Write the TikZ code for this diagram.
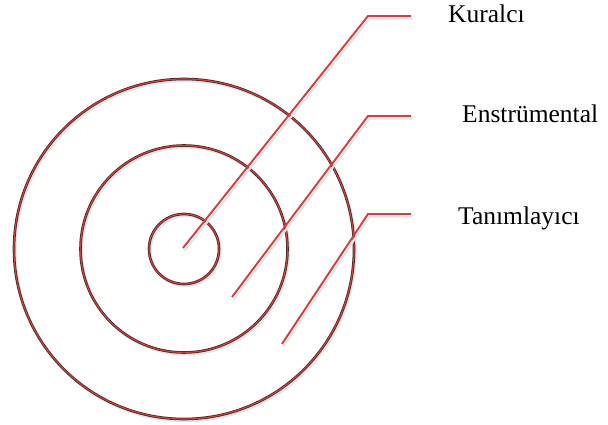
\documentclass[tikz,border=0pt]{standalone}
\usepackage{fontspec}
\setmainfont{Liberation Serif}
\usetikzlibrary{calc}
\definecolor{ringdark}{RGB}{75,35,35}
\definecolor{ringred}{RGB}{200,70,70}
\definecolor{leadred}{RGB}{205,65,65}
\definecolor{shade}{RGB}{228,228,228}
\tikzset{
  ringout/.style={draw=ringdark,line width=2.6pt},
  ringin/.style={draw=ringred,line width=1.1pt},
  leader/.style={draw=leadred,line width=1.9pt},
  leadshadow/.style={draw=shade,line width=2.2pt},
  lbl/.style={anchor=base west,inner sep=0pt,font=\fontsize{25.5}{30}\selectfont}
}
\begin{document}
\begin{tikzpicture}[x=1pt,y=-1pt]
\useasboundingbox (0,0) rectangle (608,425);
\coordinate (c) at (184,249);
% rings
\foreach \r in {35,103.5,170}{
  \draw[draw=shade,line width=2.4pt] ($(c)+(1.5,2)$) circle (\r);
}
\draw[ringout] (c) circle (35);
\draw[ringin] (c) circle (35);
\draw[ringout] (c) circle (103.5);
\draw[ringin] (c) circle (103.5);
\draw[ringout] (c) circle (170);
\draw[ringin] (c) circle (170);
% leader points
\coordinate (s1) at (183,248);
\coordinate (e1) at (368,16);
\coordinate (t1) at (411,16);
\coordinate (s2) at (232,297);
\coordinate (e2) at (368,116);
\coordinate (t2) at (411,116);
\coordinate (s3) at (282,344);
\coordinate (e3) at (368,214);
\coordinate (t3) at (411,214);
% shadows
\foreach \i in {1,2,3}{
  \draw[leadshadow] ($(s\i)+(1.5,2.5)$) -- ($(e\i)+(1.5,2.5)$) -- ($(t\i)+(1.5,2.5)$);
}
\draw[leader] (s1) -- (e1) -- (t1);
\draw[leader] (s2) -- (e2) -- (t2);
\draw[leader] (s3) -- (e3) -- (t3);
% labels
\node[lbl] (l1) at (448,23) {Kuralcı};
\node[lbl] (l2) at (462,123) {Enstrümental};
\node[lbl] (l3) at (458,224) {Tanımlayıcı};
\end{tikzpicture}
\end{document}
